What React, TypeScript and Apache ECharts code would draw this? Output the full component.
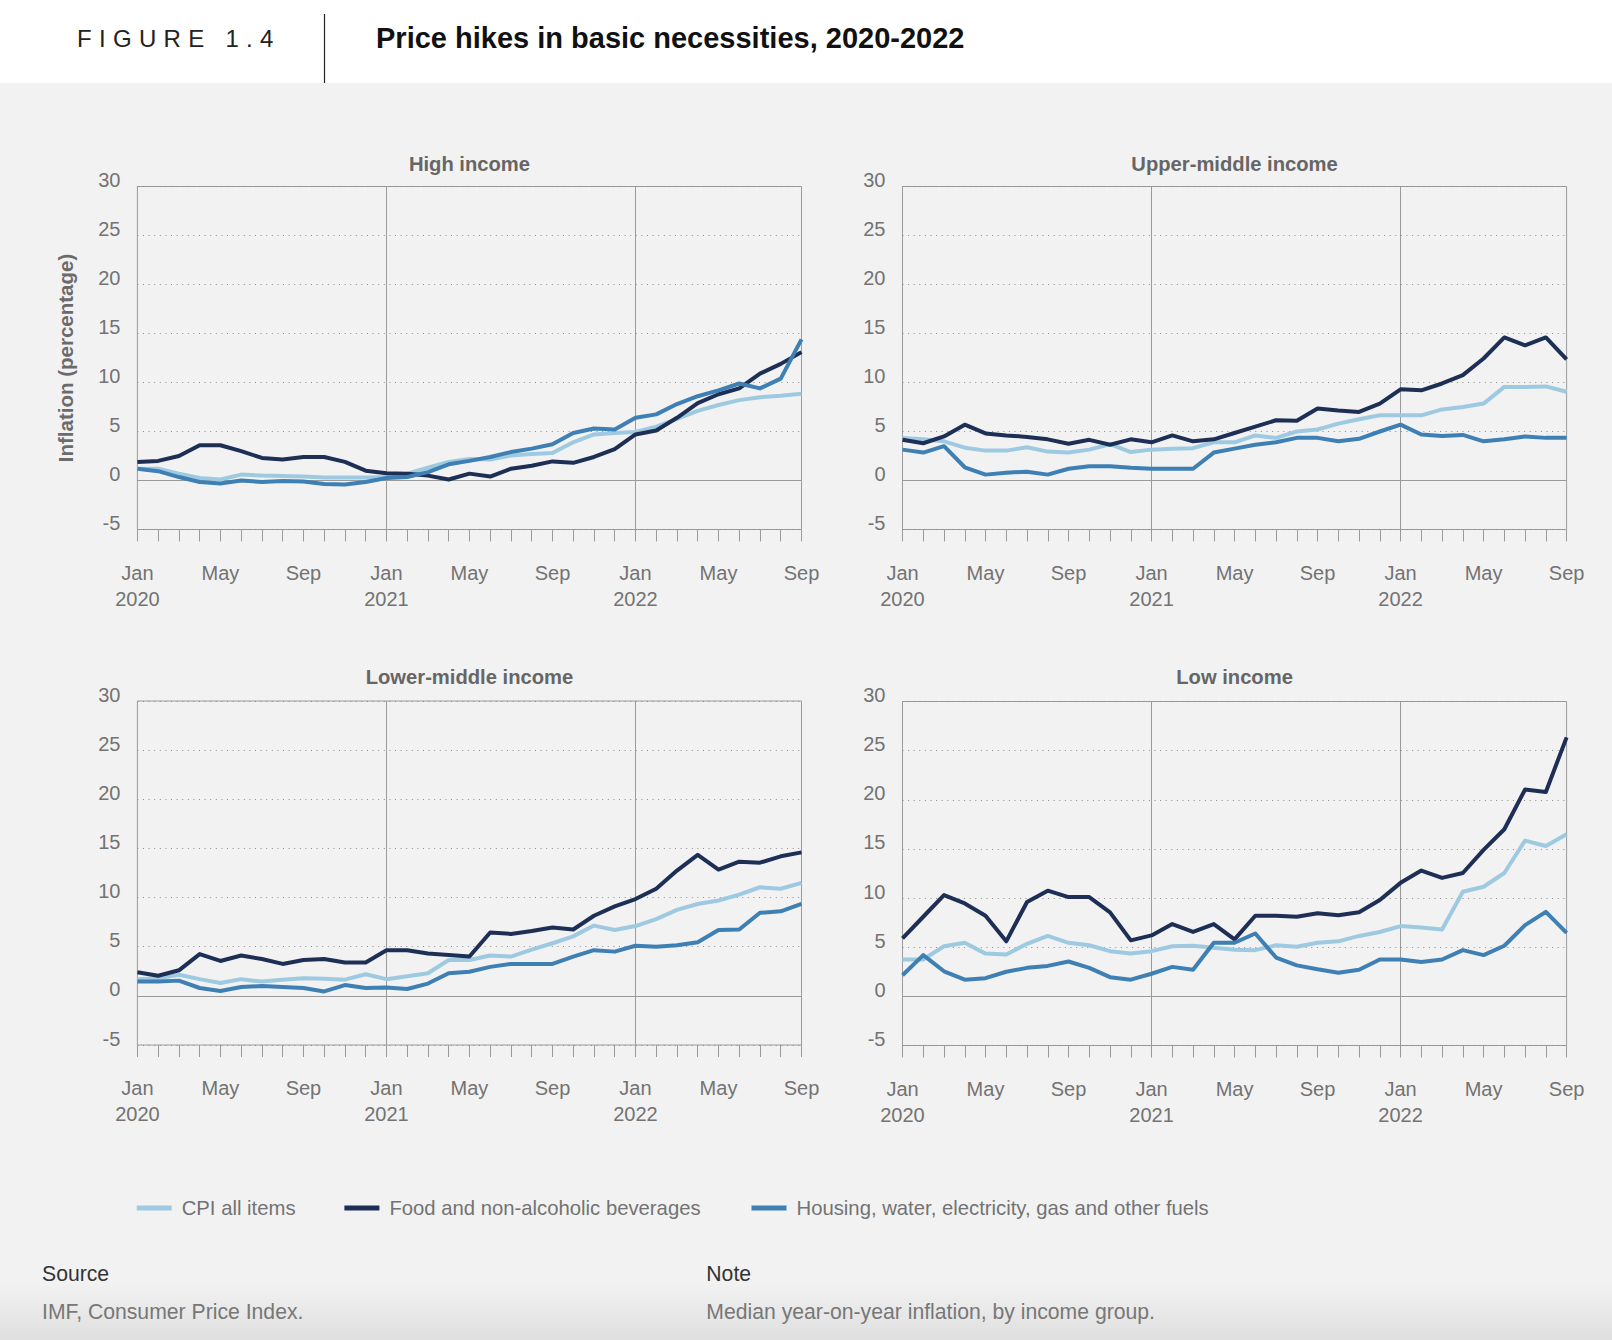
import React, { useEffect, useRef } from "react";
import * as echarts from "echarts";

// ---------- DATA ----------
const MONTHS = [
  "Jan 2020", "Feb 2020", "Mar 2020", "Apr 2020", "May 2020", "Jun 2020", "Jul 2020", "Aug 2020", "Sep 2020", "Oct 2020", "Nov 2020", "Dec 2020",
  "Jan 2021", "Feb 2021", "Mar 2021", "Apr 2021", "May 2021", "Jun 2021", "Jul 2021", "Aug 2021", "Sep 2021", "Oct 2021", "Nov 2021", "Dec 2021",
  "Jan 2022", "Feb 2022", "Mar 2022", "Apr 2022", "May 2022", "Jun 2022", "Jul 2022", "Aug 2022", "Sep 2022",
];

const Y_TICKS = [-5, 0, 5, 10, 15, 20, 25, 30];

const SERIES_NAMES = [
  "CPI all items",
  "Food and non-alcoholic beverages",
  "Housing, water, electricity, gas and other fuels",
];

const PANEL_TITLES = ["High income", "Upper-middle income", "Lower-middle income", "Low income"];

const HIGH_CPI = [1.2, 1.2, 0.7, 0.25, 0.1, 0.6, 0.5, 0.45, 0.4, 0.3, 0.3, 0.3, 0.35, 0.7, 1.3, 1.9, 2.2, 2.15, 2.55, 2.7, 2.8, 3.9, 4.7, 4.85, 4.95, 5.5, 6.3, 7.1, 7.7, 8.2, 8.5, 8.65, 8.85];
const HIGH_FOOD = [1.9, 2.0, 2.5, 3.6, 3.6, 3.0, 2.3, 2.15, 2.4, 2.4, 1.9, 1.0, 0.75, 0.7, 0.5, 0.1, 0.7, 0.4, 1.2, 1.5, 1.95, 1.8, 2.4, 3.2, 4.7, 5.1, 6.4, 7.9, 8.8, 9.4, 10.9, 11.9, 13.1];
const HIGH_HOUSING = [1.2, 0.95, 0.35, -0.15, -0.3, 0.0, -0.15, -0.05, -0.1, -0.35, -0.4, -0.15, 0.25, 0.35, 0.85, 1.65, 2.0, 2.4, 2.9, 3.25, 3.7, 4.85, 5.3, 5.2, 6.4, 6.75, 7.8, 8.6, 9.2, 9.9, 9.4, 10.4, 14.4];

const UPPER_CPI = [4.35, 4.2, 4.0, 3.35, 3.05, 3.05, 3.4, 2.95, 2.85, 3.15, 3.7, 2.9, 3.15, 3.25, 3.3, 3.9, 3.9, 4.6, 4.35, 5.0, 5.2, 5.8, 6.25, 6.65, 6.65, 6.65, 7.25, 7.5, 7.85, 9.55, 9.55, 9.6, 9.05];
const UPPER_FOOD = [4.15, 3.8, 4.5, 5.7, 4.8, 4.6, 4.45, 4.2, 3.75, 4.15, 3.65, 4.2, 3.9, 4.6, 4.0, 4.2, 4.85, 5.5, 6.15, 6.1, 7.35, 7.15, 7.0, 7.85, 9.3, 9.2, 9.9, 10.75, 12.45, 14.6, 13.8, 14.6, 12.35];
const UPPER_HOUSING = [3.15, 2.85, 3.5, 1.35, 0.6, 0.8, 0.9, 0.6, 1.2, 1.45, 1.45, 1.3, 1.2, 1.2, 1.2, 2.85, 3.25, 3.65, 3.9, 4.35, 4.35, 4.0, 4.25, 5.0, 5.7, 4.7, 4.55, 4.65, 4.0, 4.2, 4.5, 4.35, 4.35];

const LOWER_CPI = [1.7, 1.8, 2.15, 1.7, 1.3, 1.7, 1.45, 1.65, 1.8, 1.75, 1.65, 2.2, 1.7, 2.0, 2.3, 3.65, 3.65, 4.1, 4.0, 4.7, 5.35, 6.05, 7.15, 6.7, 7.1, 7.8, 8.75, 9.35, 9.7, 10.3, 11.05, 10.9, 11.5];
const LOWER_FOOD = [2.4, 2.05, 2.6, 4.25, 3.55, 4.1, 3.75, 3.25, 3.65, 3.75, 3.4, 3.4, 4.65, 4.65, 4.3, 4.15, 4.0, 6.45, 6.3, 6.6, 6.95, 6.75, 8.15, 9.1, 9.85, 10.9, 12.75, 14.35, 12.85, 13.65, 13.55, 14.2, 14.6];
const LOWER_HOUSING = [1.45, 1.45, 1.55, 0.8, 0.5, 0.9, 1.0, 0.9, 0.8, 0.45, 1.1, 0.8, 0.85, 0.7, 1.25, 2.3, 2.45, 2.95, 3.25, 3.25, 3.25, 4.0, 4.65, 4.5, 5.1, 5.0, 5.15, 5.45, 6.7, 6.75, 8.45, 8.6, 9.35];

const LOW_CPI = [3.75, 3.75, 5.1, 5.45, 4.35, 4.25, 5.35, 6.15, 5.45, 5.2, 4.6, 4.35, 4.6, 5.1, 5.15, 4.95, 4.75, 4.7, 5.2, 5.05, 5.45, 5.6, 6.15, 6.55, 7.15, 7.0, 6.8, 10.65, 11.15, 12.55, 15.85, 15.3, 16.5];
const LOW_FOOD = [5.9, 8.1, 10.3, 9.45, 8.2, 5.6, 9.6, 10.75, 10.1, 10.1, 8.55, 5.7, 6.2, 7.35, 6.55, 7.35, 5.8, 8.2, 8.2, 8.1, 8.45, 8.25, 8.55, 9.8, 11.55, 12.8, 12.05, 12.55, 14.9, 17.0, 21.05, 20.8, 26.35];
const LOW_HOUSING = [2.15, 4.2, 2.55, 1.7, 1.85, 2.5, 2.9, 3.1, 3.55, 2.9, 1.95, 1.7, 2.3, 3.0, 2.7, 5.45, 5.45, 6.4, 3.95, 3.15, 2.75, 2.4, 2.7, 3.75, 3.75, 3.5, 3.75, 4.7, 4.2, 5.15, 7.25, 8.6, 6.45];

const PANEL_DATA = [
  [HIGH_CPI, HIGH_FOOD, HIGH_HOUSING],
  [UPPER_CPI, UPPER_FOOD, UPPER_HOUSING],
  [LOWER_CPI, LOWER_FOOD, LOWER_HOUSING],
  [LOW_CPI, LOW_FOOD, LOW_HOUSING],
];

// ---------- STYLE / LAYOUT ----------
const FONT = "'Liberation Sans', Arial, Helvetica, sans-serif";
const COLORS = ["#9ecae1", "#1e2f56", "#3e7fb4"];
const LABEL_COLOR = "#737373";
const AXIS_COLOR = "#9a9a9a";
const GRIDS = [
  { left: 137.4, top: 186.5, width: 664.1, height: 343 },
  { left: 902.5, top: 186.5, width: 664.1, height: 343 },
  { left: 137.4, top: 701, width: 664.1, height: 344 },
  { left: 902.5, top: 701.5, width: 664.1, height: 344 },
];
const PANEL_TITLE_Y = [164, 164, 676.7, 676.7];
const LEGEND_X = [136.7, 344.4, 751.5];

function buildOption() {
  const grid = GRIDS.map((g) => ({
    ...g,
    show: true,
    borderColor: AXIS_COLOR,
    borderWidth: 1,
    backgroundColor: "transparent",
  }));

  const xAxis = GRIDS.map((_, i) => ({
    type: "category",
    gridIndex: i,
    data: MONTHS,
    boundaryGap: false,
    axisLine: { show: false, onZero: false },
    axisTick: { show: true, interval: 0, length: 12, lineStyle: { color: AXIS_COLOR, width: 1 } },
    axisLabel: {
      interval: 3,
      margin: 30,
      color: LABEL_COLOR,
      fontSize: 20,
      fontFamily: FONT,
      lineHeight: 26,
      formatter: (v: string) => {
        const [m, y] = v.split(" ");
        return m === "Jan" ? `${m}\n${y}` : m;
      },
    },
    splitLine: {
      show: true,
      interval: (idx: number) => idx === 12 || idx === 24,
      lineStyle: { color: AXIS_COLOR, width: 1, type: "solid" },
    },
  }));

  const yAxis = GRIDS.map((_, i) => ({
    type: "value",
    gridIndex: i,
    min: Y_TICKS[0],
    max: Y_TICKS[Y_TICKS.length - 1],
    interval: Y_TICKS[1] - Y_TICKS[0],
    axisLine: { show: false },
    axisTick: { show: false },
    axisLabel: {
      color: LABEL_COLOR,
      fontSize: 20,
      fontFamily: FONT,
      margin: 17,
      verticalAlign: "bottom",
      lineHeight: 13,
    },
    splitLine: { show: true, lineStyle: { color: "#8c8c8c", width: 1, type: [1, 4.6] } },
    name: i === 0 ? "Inflation (percentage)" : "",
    nameLocation: "middle",
    nameRotate: 90,
    nameGap: 61.5,
    nameTextStyle: { color: "#6b6b6b", fontSize: 20.5, fontWeight: "bold", fontFamily: FONT },
  }));

  const series: any[] = [];
  PANEL_DATA.forEach((arrs, p) => {
    arrs.forEach((data, s) => {
      series.push({
        type: "line",
        name: SERIES_NAMES[s],
        xAxisIndex: p,
        yAxisIndex: p,
        data,
        color: COLORS[s],
        symbol: "none",
        showSymbol: false,
        lineStyle: { width: 4, color: COLORS[s], join: "round" },
        emphasis: { disabled: true },
        z: 3 + s,
        markLine:
          s === 0
            ? {
                silent: true,
                symbol: ["none", "none"],
                label: { show: false },
                lineStyle: { color: AXIS_COLOR, width: 1, type: "solid" },
                data: [{ yAxis: 0 }],
                z: 1,
              }
            : undefined,
      });
    });
  });

  const legend = SERIES_NAMES.map((name, i) => ({
    data: [{ name, icon: "rect" }],
    left: LEGEND_X[i],
    top: 1198,
    padding: 0,
    itemWidth: 35,
    itemHeight: 5,
    selectedMode: false,
    textStyle: { color: LABEL_COLOR, fontSize: 20.3, fontFamily: FONT, padding: [0, 0, 0, 5] },
  }));

  const graphic: any[] = [
    { type: "rect", shape: { x: 0, y: 0, width: 1612, height: 83 }, style: { fill: "#ffffff" }, silent: true },
    {
      type: "rect",
      shape: { x: 0, y: 1282, width: 1612, height: 58 },
      style: {
        fill: new echarts.graphic.LinearGradient(0, 0, 0, 1, [
          { offset: 0, color: "#f2f2f2" },
          { offset: 1, color: "#dfdfdf" },
        ]),
      },
      silent: true,
    },
    { type: "line", shape: { x1: 324.5, y1: 14, x2: 324.5, y2: 83 }, style: { stroke: "#222", lineWidth: 1.2 }, silent: true },
    {
      type: "text",
      x: 77,
      y: 38,
      style: { text: "FIGURE 1.4", fill: "#222", font: `normal 24px ${FONT}`, verticalAlign: "middle", align: "left" },
    },
    {
      type: "text",
      x: 376,
      y: 38.3,
      style: {
        text: "Price hikes in basic necessities, 2020-2022",
        fill: "#111",
        font: `bold 29px ${FONT}`,
        verticalAlign: "middle",
        align: "left",
      },
    },
    ...PANEL_TITLES.map((t, i) => ({
      type: "text",
      x: GRIDS[i].left + GRIDS[i].width / 2,
      y: PANEL_TITLE_Y[i],
      style: { text: t, fill: "#666", font: `bold 20.2px ${FONT}`, align: "center", verticalAlign: "middle" },
    })),
    { type: "text", x: 42, y: 1273.3, style: { text: "Source", fill: "#333", font: `normal 21.2px ${FONT}`, verticalAlign: "middle" } },
    {
      type: "text",
      x: 42,
      y: 1311.7,
      style: { text: "IMF, Consumer Price Index.", fill: "#777", font: `normal 21.2px ${FONT}`, verticalAlign: "middle" },
    },
    { type: "text", x: 706.3, y: 1273.3, style: { text: "Note", fill: "#333", font: `normal 21.2px ${FONT}`, verticalAlign: "middle" } },
    {
      type: "text",
      x: 706.3,
      y: 1311.7,
      style: {
        text: "Median year-on-year inflation, by income group.",
        fill: "#777",
        font: `normal 21.2px ${FONT}`,
        verticalAlign: "middle",
      },
    },
  ];

  return {
    animation: false,
    backgroundColor: "#f2f2f2",
    textStyle: { fontFamily: FONT },
    grid,
    xAxis,
    yAxis,
    series,
    legend,
    graphic,
  };
}

export default function App() {
  const ref = useRef<HTMLDivElement | null>(null);

  useEffect(() => {
    const el = ref.current;
    if (!el) return;
    const chart = echarts.init(el, undefined, { renderer: "svg" });
    chart.setOption(buildOption() as any);
    const applySpacing = () => {
      el.querySelectorAll("text").forEach((t) => {
        if (t.textContent === "FIGURE 1.4") {
          t.setAttribute("letter-spacing", "7.3");
          (t as any).style.letterSpacing = "7.3px";
        }
      });
    };
    applySpacing();
    chart.on("finished", applySpacing);
    const timer = window.setTimeout(applySpacing, 50);
    return () => {
      window.clearTimeout(timer);
      chart.dispose();
    };
  }, []);

  return <div ref={ref} style={{ position: "absolute", left: 0, top: 0, width: 1612, height: 1340 }} />;
}
